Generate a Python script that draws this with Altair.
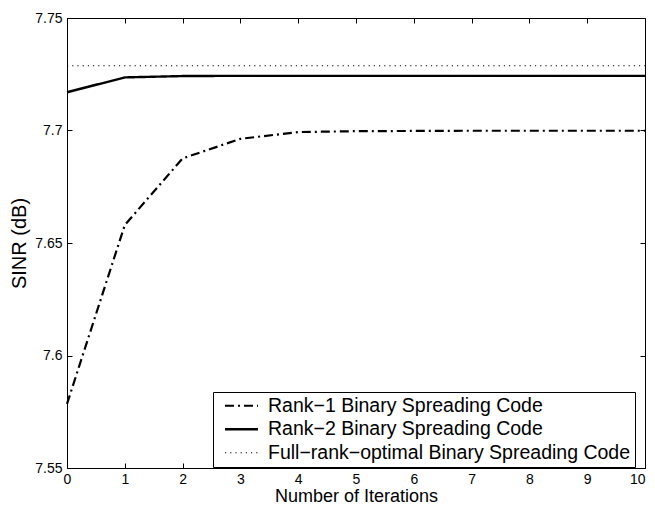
import altair as alt
import pandas as pd

# ---- data ----
iterations = [0, 1, 2, 3, 4, 5, 6, 7, 8, 9, 10]
rank1_sinr = [7.5785, 7.6580, 7.6876, 7.6963, 7.6993, 7.6997, 7.6998, 7.6999, 7.6999, 7.6999, 7.6999]
rank2_sinr = [7.7170, 7.7236, 7.7242, 7.7243, 7.7243, 7.7243, 7.7243, 7.7243, 7.7243, 7.7243, 7.7243]
fullrank_sinr = [7.7288, 7.7288, 7.7288, 7.7288, 7.7288, 7.7288, 7.7288, 7.7288, 7.7288, 7.7288, 7.7288]
series_names = [
    "Rank\u22121 Binary Spreading Code",
    "Rank\u22122 Binary Spreading Code",
    "Full\u2212rank\u2212optimal Binary Spreading Code",
]
x_ticks = [0, 1, 2, 3, 4, 5, 6, 7, 8, 9, 10]
y_ticks = [7.55, 7.6, 7.65, 7.7, 7.75]

rows = []
for name, vals in zip(series_names, [rank1_sinr, rank2_sinr, fullrank_sinr]):
    for it, v in zip(iterations, vals):
        rows.append({"iter": it, "sinr": v, "series": name})
df = pd.DataFrame(rows)

W, H = 578, 450
FONT = "Liberation Sans"

xscale = alt.Scale(domain=[0, 10], nice=False)
yscale = alt.Scale(domain=[7.55, 7.75], nice=False, zero=False)

base = alt.Chart(df)

lines = base.mark_line(color="black").encode(
    x=alt.X("iter:Q", scale=xscale,
            axis=alt.Axis(values=x_ticks, ticks=False, domain=False, grid=False,
                          labelFontSize=14, labelPadding=4, labelFlush=False,
                          labelAlign={"condition": {"test": "datum.value == 10", "value": "right"},
                                      "value": "center"},
                          title="Number of Iterations", titleFontSize=18,
                          titlePadding=1, titleFontWeight="normal")),
    y=alt.Y("sinr:Q", scale=yscale,
            axis=alt.Axis(values=y_ticks, format=".2~f", ticks=False, domain=False,
                          grid=False, labelFontSize=14, labelPadding=5,
                          labelFlush=False, title="SINR (dB)", titleFontSize=20,
                          titlePadding=5, titleFontWeight="normal")),
    strokeDash=alt.StrokeDash(
        "series:N",
        scale=alt.Scale(domain=series_names, range=[[9, 4, 2, 4], [1, 0], [1.2, 4]]),
        legend=alt.Legend(title=None),
    ),
    strokeWidth=alt.StrokeWidth(
        "series:N",
        scale=alt.Scale(type="ordinal", domain=series_names, range=[2.2, 2.4, 1.1]),
        legend=alt.Legend(title=None),
    ),
)

tick_axis = dict(labels=False, ticks=True, tickSize=5, domain=False, grid=False,
                 title=None, tickColor="black")

inner1 = base.mark_point(opacity=0).encode(
    x=alt.X("iter:Q", scale=xscale,
            axis=alt.Axis(orient="top", offset=-H, values=x_ticks, **tick_axis)),
    y=alt.Y("sinr:Q", scale=yscale,
            axis=alt.Axis(orient="right", offset=-W, values=y_ticks, **tick_axis)),
)
inner2 = base.mark_point(opacity=0).encode(
    x=alt.X("iter:Q", scale=xscale,
            axis=alt.Axis(orient="bottom", offset=-H, values=x_ticks, **tick_axis)),
    y=alt.Y("sinr:Q", scale=yscale,
            axis=alt.Axis(orient="left", offset=-W, values=y_ticks, **tick_axis)),
)

chart = (
    alt.layer(lines, inner1, inner2)
    .resolve_axis(x="independent", y="independent")
    .properties(
        width=W, height=H,
        autosize=alt.AutoSizeParams(type="none"),
        padding={"left": 59, "top": 10, "right": 2, "bottom": 36},
    )
    .configure_view(stroke="black", strokeWidth=1)
    .configure_axis(labelFont=FONT, titleFont=FONT, labelColor="black",
                    titleColor="black")
    .configure_legend(
        orient="none", legendX=146, legendY=374,
        strokeColor="black", fillColor="white", padding=4, cornerRadius=0,
        labelFont=FONT, labelFontSize=19.5, labelColor="black", labelOffset=31.5,
        symbolType="M-0.875,0H15.625", symbolSize=16, symbolStrokeColor="black",
        rowPadding=2.5, labelLimit=0,
    )
)

chart.save("out.html", embed_options={"renderer": "svg", "actions": False})
